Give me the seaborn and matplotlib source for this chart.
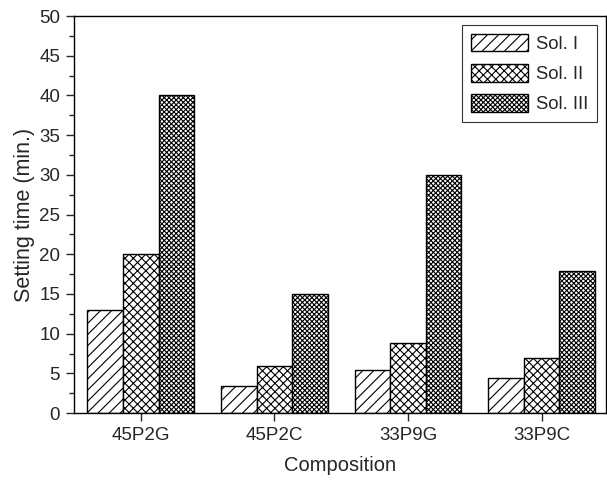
import matplotlib
matplotlib.use("Agg")
import matplotlib.pyplot as plt
import seaborn as sns
import pandas as pd
from matplotlib.ticker import MultipleLocator
from matplotlib.patches import Patch

compositions = ["45P2G", "45P2C", "33P9G", "33P9C"]
solutions = ["Sol. I", "Sol. II", "Sol. III"]
sol_I = [13.0, 3.4, 5.4, 4.4]
sol_II = [20.0, 5.9, 8.8, 6.9]
sol_III = [40.0, 15.0, 30.0, 17.9]

df = pd.DataFrame({
    "Composition": compositions * 3,
    "Solution": [s for s in solutions for _ in compositions],
    "Time": sol_I + sol_II + sol_III,
})

sns.set_style("ticks")
plt.rcParams["font.family"] = ["Liberation Sans", "DejaVu Sans"]
plt.rcParams["hatch.linewidth"] = 0.8

fig = plt.figure(figsize=(6.07, 4.86), dpi=100)
ax = fig.add_axes([0.122, 0.150, 0.876, 0.817])

sns.barplot(data=df, x="Composition", y="Time", hue="Solution",
            order=compositions, hue_order=solutions, width=0.8,
            palette=["white"] * 3, edgecolor="black", linewidth=1.0,
            errorbar=None, ax=ax, legend=False)

hatches = ["///", "xxxx", "xxxxxxx"]
for cont, h in zip(ax.containers, hatches):
    for bar in cont:
        bar.set_hatch(h)
        bar.set_facecolor("white")
        bar.set_edgecolor("black")

ax.set_xlim(-0.5, 3.48)
ax.set_ylim(0, 50)
ax.yaxis.set_major_locator(MultipleLocator(5))
ax.yaxis.set_minor_locator(MultipleLocator(2.5))
ax.tick_params(axis="both", direction="out", labelsize=13.5, length=6, width=1, pad=4)
ax.tick_params(axis="y", which="minor", length=3.5, width=1)
ax.set_xlabel("Composition", fontsize=14.5, labelpad=9)
ax.set_ylabel("Setting time (min.)", fontsize=15.5, labelpad=3)
for s in ax.spines.values():
    s.set_visible(True)
    s.set_linewidth(1.0)
    s.set_color("black")

handles = [Patch(facecolor="white", edgecolor="black", hatch=h, label=l)
           for h, l in zip(hatches, solutions)]
leg = ax.legend(handles=handles, loc="upper right", fontsize=13.3,
                handlelength=3.1, handleheight=1.1, handletextpad=0.43,
                frameon=True, fancybox=False, edgecolor="black",
                borderpad=0.45, labelspacing=0.6, borderaxespad=0.5)
leg.get_frame().set_linewidth(0.8)

fig.savefig("out.png", dpi=100)
